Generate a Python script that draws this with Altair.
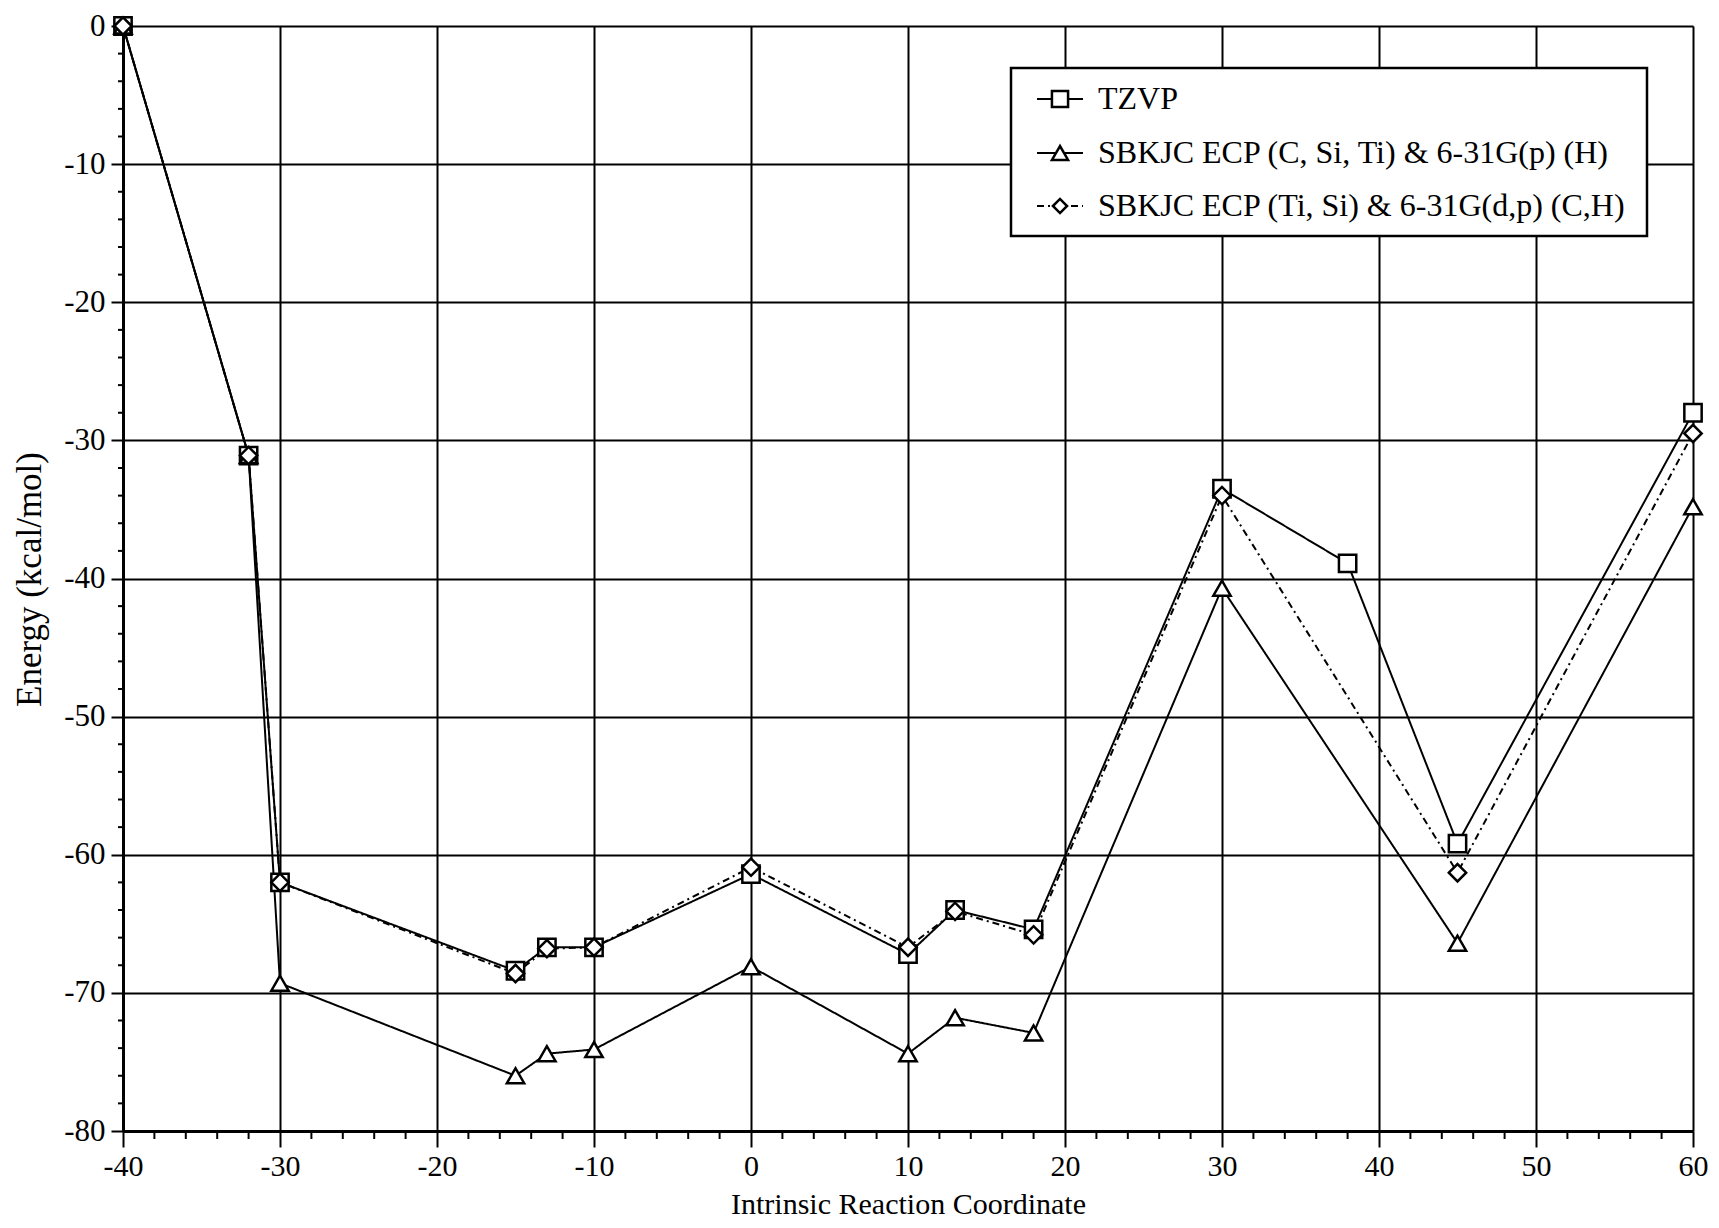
import altair as alt
import pandas as pd

# ---- data ----
series_names = [
    "TZVP",
    "SBKJC ECP (C, Si, Ti) & 6-31G(p) (H)",
    "SBKJC ECP (Ti, Si) & 6-31G(d,p) (C,H)",
]
irc_tzvp = [-40, -32, -30, -15, -13, -10, 0, 10, 13, 18, 30, 38, 45, 60]
e_tzvp = [0, -31.1, -62.0, -68.4, -66.7, -66.7, -61.4, -67.2, -64.0, -65.4, -33.5, -38.9, -59.2, -28.0]
irc_ecp = [-40, -32, -30, -15, -13, -10, 0, 10, 13, 18, 30, 45, 60]
e_ecp1 = [0, -31.1, -69.3, -76.0, -74.4, -74.1, -68.1, -74.4, -71.8, -72.9, -40.7, -66.4, -34.8]
e_ecp2 = [0, -31.1, -62.0, -68.6, -66.8, -66.7, -60.9, -66.7, -64.1, -65.8, -34.0, -61.3, -29.5]
x_major = list(range(-40, 61, 10))
y_major = list(range(-80, 1, 10))
x_minor = [v for v in range(-40, 61, 2) if v % 10 != 0]
y_minor = [v for v in range(-80, 1, 2) if v % 10 != 0]

shapes = ["square", "triangle-up", "diamond"]
dashes = [[1, 0], [1, 0], [7, 4, 2, 4]]

rows = []
for xs, es, name in [(irc_tzvp, e_tzvp, series_names[0]),
                     (irc_ecp, e_ecp1, series_names[1]),
                     (irc_ecp, e_ecp2, series_names[2])]:
    for xv, ev in zip(xs, es):
        rows.append({"irc": xv, "energy": ev, "series": name})
df = pd.DataFrame(rows)

FONT = "Liberation Serif"
W, H = 1570, 1105

x_enc = alt.X(
    "irc:Q",
    scale=alt.Scale(domain=[-40, 60], nice=False, zero=False),
    axis=alt.Axis(
        values=x_major,
        labelExpr="'' + datum.value",
        title="Intrinsic Reaction Coordinate",
        titleFont=FONT, titleFontSize=30, titleFontWeight="normal", titleColor="black",
        titleY=82, titleBaseline="alphabetic",
        labelFont=FONT, labelFontSize=30, labelColor="black",
        labelFlush=False, labelOverlap=False, labelPadding=4,
        tickSize=16, tickWidth=2, tickColor="black",
        grid=True, gridColor="black", gridWidth=2, gridOpacity=1,
        domainColor="black", domainWidth=3,
    ),
)
y_enc = alt.Y(
    "energy:Q",
    scale=alt.Scale(domain=[-80, 0], nice=False, zero=False),
    axis=alt.Axis(
        values=y_major,
        labelExpr="'' + datum.value",
        title="Energy (kcal/mol)",
        titleFont=FONT, titleFontSize=35, titleFontWeight="normal", titleColor="black",
        titleX=-94, titleY=553, titleAngle=270, titleAlign="center", titleBaseline="middle",
        labelFont=FONT, labelFontSize=31, labelColor="black",
        labelFlush=False, labelOverlap=False, labelPadding=6,
        tickSize=12, tickWidth=2, tickColor="black",
        grid=True, gridColor="black", gridWidth=2, gridOpacity=1,
        domainColor="black", domainWidth=3,
    ),
)

lines = alt.Chart(df).mark_line(color="black", strokeWidth=2).encode(
    x=x_enc,
    y=y_enc,
    detail="series:N",
    strokeDash=alt.StrokeDash("series:N", scale=alt.Scale(domain=series_names, range=dashes), legend=None),
)
points = alt.Chart(df).mark_point(filled=True, fill="white", stroke="black", strokeWidth=2.5, size=300, opacity=1).encode(
    x="irc:Q",
    y="energy:Q",
    shape=alt.Shape("series:N", scale=alt.Scale(domain=series_names, range=shapes), legend=None),
)

# minor ticks (outside the frame), through the same scales
minor_x = alt.Chart(pd.DataFrame({"irc": x_minor})).mark_rule(color="black", strokeWidth=2).encode(
    x="irc:Q", y=alt.value(H), y2=alt.value(H + 8)
)
minor_y = alt.Chart(pd.DataFrame({"energy": y_minor})).mark_rule(color="black", strokeWidth=2).encode(
    y="energy:Q", x=alt.value(0), x2=alt.value(-5)
)

# ---- custom legend (box, line+symbol, label) ----
one = pd.DataFrame({"k": [0]})
legend_layers = [
    alt.Chart(one).mark_rect(fill="white", stroke="black", strokeWidth=2.5).encode(
        x=alt.value(888), x2=alt.value(1524), y=alt.value(42), y2=alt.value(210)
    )
]
row_y = [73, 127, 180]
for name, shp, dsh, ry in zip(series_names, shapes, dashes, row_y):
    d = pd.DataFrame({"series": [name]})
    legend_layers.append(
        alt.Chart(d).mark_rule(color="black", strokeWidth=2, strokeDash=dsh).encode(
            x=alt.value(914), x2=alt.value(960), y=alt.value(ry)
        )
    )
    legend_layers.append(
        alt.Chart(d).mark_point(shape=shp, filled=True, fill="white", stroke="black", strokeWidth=2.5,
                                size=260 if shp != "diamond" else 200, opacity=1).encode(
            x=alt.value(937), y=alt.value(ry)
        )
    )
    legend_layers.append(
        alt.Chart(d).mark_text(align="left", baseline="middle", font=FONT, fontSize=32, color="black").encode(
            x=alt.value(975), y=alt.value(ry), text="series:N"
        )
    )

chart = alt.layer(lines, minor_x, minor_y, points, *legend_layers).properties(
    width=W,
    height=H,
    autosize=alt.AutoSizeParams(type="none"),
    padding={"left": 115, "top": 18, "right": 16, "bottom": 88},
).configure_view(stroke="black", strokeWidth=2).configure(background="white")

chart.save("out.html", embed_options={"renderer": "svg", "actions": False})
